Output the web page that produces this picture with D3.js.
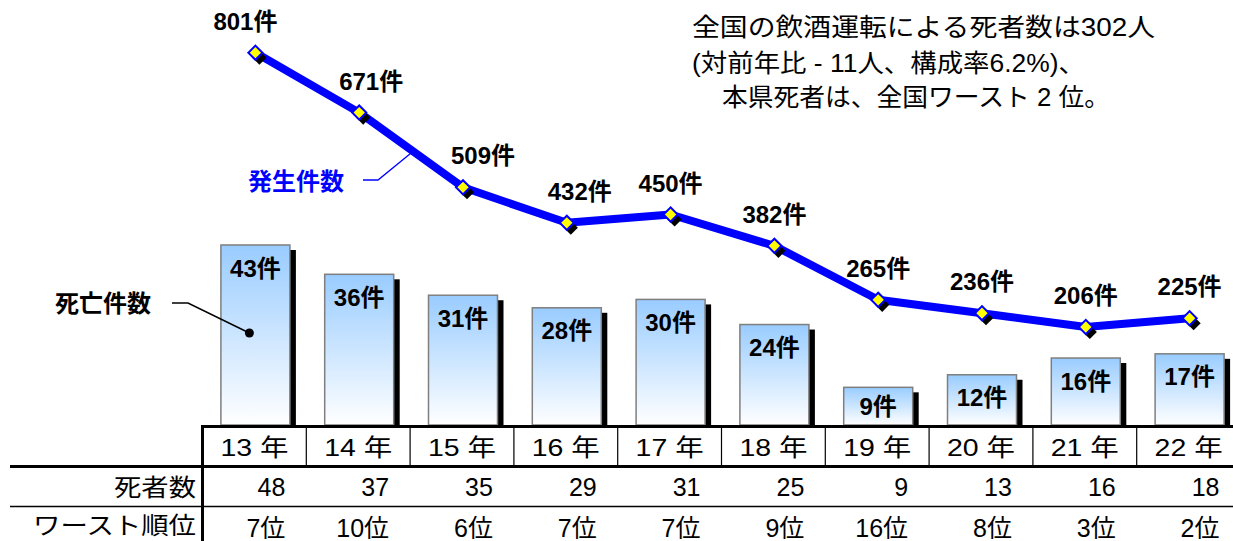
<!DOCTYPE html>
<html><head><meta charset="utf-8">
<script src="https://cdn.jsdelivr.net/npm/d3@7"></script>
<style>
html,body{margin:0;padding:0;background:#fff;}
svg{display:block;}
text{font-family:"Liberation Sans","Noto Sans CJK JP",Arial,sans-serif;}
</style></head><body>
<svg id="chart" width="1233" height="541"></svg>
<script>
const years = ["13","14","15","16","17","18","19","20","21","22"];
const incidents = [801,671,509,432,450,382,265,236,206,225];
const fatalAccidents = [43,36,31,28,30,24,9,12,16,17];
const deaths = [48,37,35,29,31,25,9,13,16,18];
const worstRank = [7,10,6,7,7,9,16,8,3,2];
const yearSuffix = "年";
const countUnit = "件";
const rankUnit = "位";
const rowLabels = ["死者数","ワースト順位"];
const lineLegend = "発生件数";
const barLegend = "死亡件数";
const titleLines = ["全国の飲酒運転による死者数は302人","(対前年比 - 11人、構成率6.2%)、","本県死者は、全国ワースト 2 位。"];

const svg = d3.select("#chart");
const W = 1233, H = 541;
const base = 425;
const x = d3.scaleBand().domain(years).range([202.5, 1240.5]).padding(0);
const yBar = d3.scaleLinear().domain([0, 50]).range([base, base - 50*4.186]);
const yLine = d3.scaleLinear().domain([0, 900]).range([422, 7]);
const barW = 69;
const cx = d => x(d) + x.bandwidth()/2 + 1;

const defs = svg.append("defs");
const grad = defs.append("linearGradient").attr("id","barGrad").attr("x1",0).attr("y1",0).attr("x2",0).attr("y2",1);
grad.append("stop").attr("offset","0%").attr("stop-color","#99CCFF");
grad.append("stop").attr("offset","100%").attr("stop-color","#FFFFFF");

const bold = "bold";
// Bars
const bars = svg.append("g");
years.forEach((yr,i)=>{
  const v = fatalAccidents[i];
  const top = yBar(v);
  const left = cx(yr) - barW/2;
  bars.append("rect").attr("x", left+6).attr("y", top+5).attr("width", barW).attr("height", base - top - 5).attr("fill","#000");
  bars.append("rect").attr("x", left).attr("y", top).attr("width", barW).attr("height", base - top)
    .attr("fill","url(#barGrad)").attr("stroke","#7f7f7f").attr("stroke-width",1.5);
  const lc = Math.min(top + 23, (top + base)/2);
  bars.append("text").attr("x", cx(yr)).attr("y", lc + 8.5).attr("text-anchor","middle")
    .attr("font-size",24).attr("font-weight",bold).attr("fill","#000").text(v + countUnit);
});

// Line
const line = d3.line().x((d,i)=>cx(years[i])).y(d=>yLine(d));
svg.append("path").datum(incidents).attr("d", line).attr("fill","none").attr("stroke","#0000FF").attr("stroke-width",8).attr("stroke-linejoin","round");
const diamond = d3.symbol().type(d3.symbolSquare).size(100);
const mk = svg.append("g");
// label nudges for the steep left part of the line (label layout only)
const labelNudge = i => (i === 0 ? -10 : i === 1 ? 12 : i === 2 ? 20 : i === 3 ? 13 : 0);
incidents.forEach((v,i)=>{
  const px = cx(years[i]), py = yLine(v);
  mk.append("path").attr("d", diamond()).attr("transform", `translate(${px+4},${py+5}) rotate(45)`).attr("fill","#000");
  mk.append("path").attr("d", diamond()).attr("transform", `translate(${px},${py}) rotate(45)`).attr("fill","#FFFF00").attr("stroke","#0000FF").attr("stroke-width",2);
  svg.append("text").attr("x", px + labelNudge(i)).attr("y", py - 23).attr("text-anchor","middle")
    .attr("font-size",24).attr("font-weight",bold).attr("fill","#000").text(v + countUnit);
});

// Legends with leader lines
const lx = (cx(years[1]) + cx(years[2]))/2, ly = (yLine(incidents[1]) + yLine(incidents[2]))/2 + 3;
svg.append("text").attr("x", 248).attr("y", 190).attr("font-size",24).attr("font-weight",bold).attr("fill","#0000FF").text(lineLegend);
svg.append("polyline").attr("points", `363,180 378,180 ${lx},${ly}`).attr("fill","none").attr("stroke","#0000FF").attr("stroke-width",1.3);
const dx0 = cx(years[0]) - 6, dy0 = yBar(fatalAccidents[0]/2) - 2;
svg.append("text").attr("x", 55).attr("y", 312).attr("font-size",24).attr("font-weight",bold).attr("fill","#000").text(barLegend);
svg.append("polyline").attr("points", `172,303 188,303 ${dx0},${dy0}`).attr("fill","none").attr("stroke","#000").attr("stroke-width",1.5);
svg.append("circle").attr("cx", dx0).attr("cy", dy0).attr("r", 4.5).attr("fill","#000");

// Title
const tx = [692, 692, 722], ty = [36, 72, 106], tl = [463, 393, 388];
titleLines.forEach((t,i)=>{
  svg.append("text").attr("x", tx[i]).attr("y", ty[i]).attr("font-size",25).attr("fill","#000")
    .attr("textLength", tl[i]).attr("lengthAdjust","spacingAndGlyphs").text(t);
});

// Table
const tg = svg.append("g");
tg.append("line").attr("x1",202).attr("x2",W).attr("y1",426.5).attr("y2",426.5).attr("stroke","#000").attr("stroke-width",3);
tg.append("line").attr("x1",202.5).attr("x2",202.5).attr("y1",425).attr("y2",H).attr("stroke","#000").attr("stroke-width",3);
years.slice(1).forEach(yr=>{
  tg.append("line").attr("x1",x(yr)).attr("x2",x(yr)).attr("y1",427).attr("y2",466).attr("stroke","#000").attr("stroke-width",1.2);
});
tg.append("line").attr("x1",10).attr("x2",W).attr("y1",466.5).attr("y2",466.5).attr("stroke","#000").attr("stroke-width",3);
tg.append("line").attr("x1",10).attr("x2",W).attr("y1",506.5).attr("y2",506.5).attr("stroke","#000").attr("stroke-width",1.5);

years.forEach((yr,i)=>{
  const c = x(yr) + x.bandwidth()/2;
  const r = x(yr) + x.bandwidth() - 21;
  tg.append("text").attr("x", c).attr("y", 456).attr("text-anchor","middle").attr("font-size",24)
    .attr("textLength",68).attr("lengthAdjust","spacingAndGlyphs").text(yr + " " + yearSuffix);
  tg.append("text").attr("x", r).attr("y", 496).attr("text-anchor","end").attr("font-size",25).text(deaths[i]);
  tg.append("text").attr("x", r).attr("y", 537).attr("text-anchor","end").attr("font-size",25).text(worstRank[i] + rankUnit);
});
tg.append("text").attr("x", 196).attr("y", 496).attr("text-anchor","end").attr("font-size",24)
  .attr("textLength",82).attr("lengthAdjust","spacingAndGlyphs").text(rowLabels[0]);
tg.append("text").attr("x", 196).attr("y", 534).attr("text-anchor","end").attr("font-size",24)
  .attr("textLength",163).attr("lengthAdjust","spacingAndGlyphs").text(rowLabels[1]);
</script></body></html>
